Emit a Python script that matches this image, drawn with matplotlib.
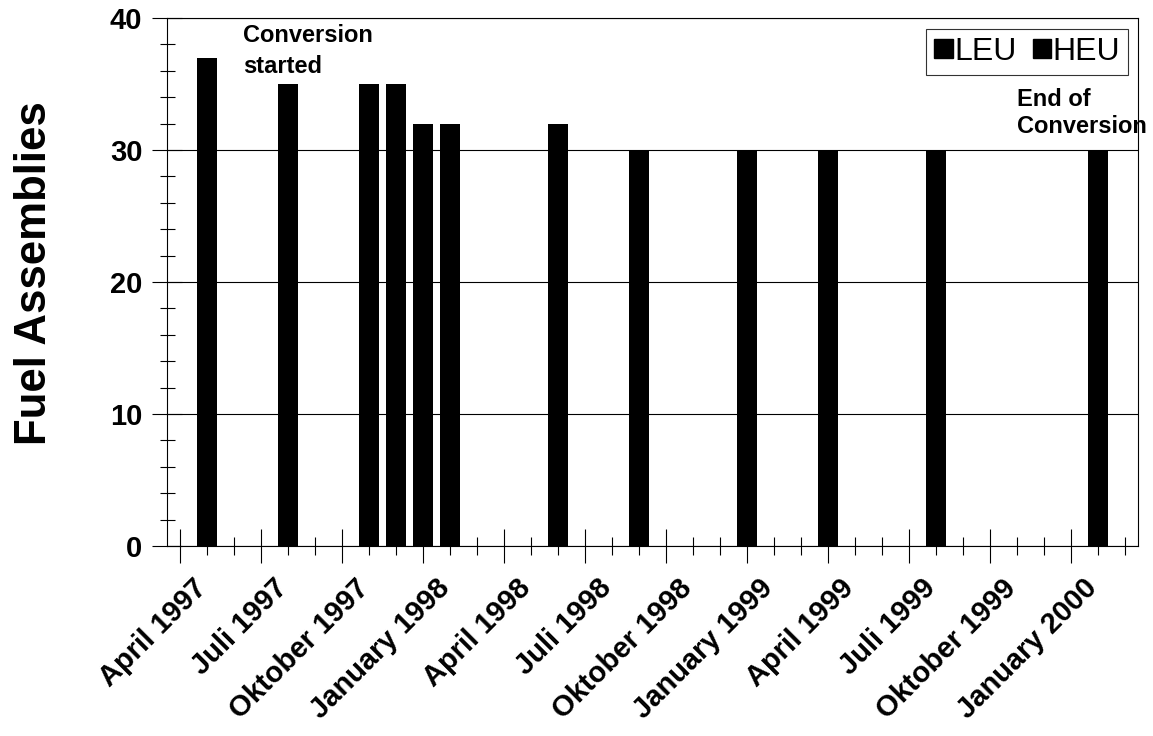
import matplotlib
matplotlib.use("Agg")
import matplotlib.pyplot as plt
import matplotlib.transforms as mtransforms
from matplotlib.patches import Patch
from matplotlib.ticker import MultipleLocator
import pandas as pd

plt.rcParams['font.family'] = ['Liberation Sans', 'DejaVu Sans']

# data
start_month = '1997-04'
n_months = 36
bar_months = ['1997-05', '1997-08', '1997-11', '1997-12', '1998-01', '1998-02',
              '1998-06', '1998-09', '1999-01', '1999-04', '1999-08', '2000-02']
assemblies = [37, 35, 35, 35, 32, 32, 32, 30, 30, 30, 30, 30]
tick_labels = ['April 1997', 'Juli 1997', 'Oktober 1997', 'January 1998',
               'April 1998', 'Juli 1998', 'Oktober 1998', 'January 1999',
               'April 1999', 'Juli 1999', 'Oktober 1999', 'January 2000']
legend_names = ['LEU', 'HEU']

p0 = pd.Period(start_month, 'M')
xpos = [(pd.Period(m, 'M') - p0).n for m in bar_months]

fig = plt.figure(figsize=(11.53, 7.36), dpi=100)
ax = fig.add_axes([167 / 1153, 1 - 546 / 736, 971 / 1153, 528 / 736])

ax.bar(xpos, assemblies, width=0.74, color='black', linewidth=0)

ax.set_xlim(-0.5, n_months - 0.5)
ax.set_ylim(0, 40)
ax.set_axisbelow(True)

ax.set_xticks(range(0, n_months, 3))
ax.set_xticklabels(tick_labels)
ax.set_xticks(range(n_months), minor=True)
ax.yaxis.set_major_locator(MultipleLocator(10))
ax.yaxis.set_minor_locator(MultipleLocator(2))

ax.tick_params(axis='x', which='major', direction='inout', length=24.5, width=0.8,
               pad=15, labelsize=21)
ax.tick_params(axis='x', which='minor', direction='inout', length=13, width=0.8)
ax.tick_params(axis='y', which='major', direction='inout', length=21.6, width=0.8,
               pad=7, labelsize=21)
ax.tick_params(axis='y', which='minor', direction='inout', length=10.8, width=0.8)

for lab in ax.get_xticklabels() + ax.get_yticklabels():
    lab.set_fontweight('bold')

# shift the rotated month labels so their ends sit right of the ticks, as in the original
offset = mtransforms.ScaledTranslation(0.22, 0, fig.dpi_scale_trans)
for lab in ax.get_xticklabels():
    lab.set_rotation(45)
    lab.set_ha('right')
    lab.set_va('center')
    lab.set_rotation_mode('anchor')
    lab.set_transform(lab.get_transform() + offset)

ax.grid(axis='y', which='major', color='black', linewidth=0.8)
for sp in ax.spines.values():
    sp.set_linewidth(0.8)
    sp.set_color('black')

ax.set_ylabel('Fuel Assemblies', fontsize=31.5, fontweight='bold')
ax.yaxis.set_label_coords(-0.1153, 0.516)

ax.text(2.31, 39.58, 'Conversion\nstarted', fontsize=17, fontweight='bold',
        ha='left', va='top', linespacing=1.45)
ax.text(31.01, 34.73, 'End of\nConversion', fontsize=17, fontweight='bold',
        ha='left', va='top', linespacing=1.25)

handles = [Patch(facecolor='black', edgecolor='black') for _ in legend_names]
leg = ax.legend(handles, legend_names, loc='upper right',
                bbox_to_anchor=(0.9897, 0.979), ncol=2, fontsize=23,
                frameon=True, fancybox=False, borderpad=0.25, borderaxespad=0,
                handlelength=0.57, handleheight=0.55, handletextpad=0.05,
                columnspacing=0.5)
leg.get_frame().set_edgecolor('black')
leg.get_frame().set_linewidth(0.8)

fig.savefig('out.png', dpi=100)
